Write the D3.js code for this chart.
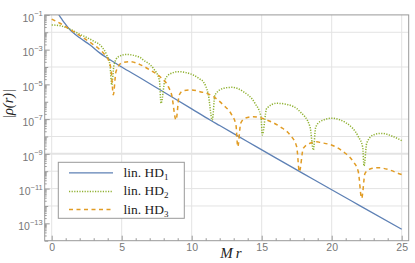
<!DOCTYPE html>
<html><head><meta charset="utf-8">
<script src="https://cdn.jsdelivr.net/npm/d3@7"></script>
<style>
html,body{margin:0;padding:0;background:#fff;}
svg{display:block;}
</style></head>
<body>
<svg id="chart" width="415" height="263"></svg>
<script>
// ---- data ----
const hd1Mr  = [0.45, 0.52, 0.75, 1.0, 1.26, 1.5, 2.0, 2.74, 3.45, 4.0, 5.0, 6.31, 8.0, 10.0, 11.31, 12, 14, 16, 18, 20, 22, 25];
const hd1Val = [1.26e-1, 1.0e-1, 5.25e-2, 2.82e-2, 1.55e-2, 1.0e-2, 4.79e-3, 1.86e-3, 6.31e-4, 3.16e-4, 1.0e-4, 2.40e-5, 3.63e-6, 3.89e-7, 8.91e-8, 4.27e-8, 5.01e-9, 5.89e-10, 7.08e-11, 8.51e-12, 1.05e-12, 4.57e-14];

const hd2Mr  = [0, 0.59, 1.26, 2.02, 2.97, 3.57, 3.93, 4.16, 4.29, 4.45, 4.76, 5.36, 6.31, 6.55, 7.26, 7.69, 7.81, 8.09, 8.45, 9.04, 10.11, 10.59, 10.83, 11.19, 11.47, 11.66, 12.26, 12.86, 13.69, 14.52, 14.95, 15.04, 15.36, 16.07, 16.79, 17.74, 18.45, 18.69, 18.85, 19.16, 20.0, 21.07, 21.9, 22.21, 22.31, 22.5, 22.97, 23.57, 24.29, 25.0];
const hd2Val = [2.63e-2, 2.40e-2, 1.55e-2, 7.59e-3, 3.16e-3, 1.48e-3, 4.90e-4, 1.32e-4, 9.12e-6, 1.32e-4, 3.89e-4, 5.25e-4, 3.55e-4, 2.51e-4, 8.32e-5, 1.78e-5, 8.13e-7, 1.78e-5, 3.98e-5, 5.37e-5, 3.47e-5, 2.00e-5, 1.41e-5, 2.45e-6, 8.91e-8, 2.45e-6, 5.89e-6, 6.76e-6, 3.80e-6, 8.13e-7, 1.38e-7, 1.23e-8, 4.17e-7, 8.13e-7, 7.08e-7, 2.69e-7, 3.63e-8, 1.66e-9, 3.16e-8, 7.08e-8, 1.12e-7, 5.75e-8, 9.77e-9, 2.57e-9, 2.00e-10, 4.07e-9, 1.23e-8, 1.51e-8, 1.07e-8, 5.75e-9];

const hd3Mr  = [0, 0.59, 1.26, 2.02, 2.74, 3.33, 3.81, 4.05, 4.25, 4.40, 4.59, 5.0, 5.59, 6.31, 7.02, 7.74, 8.33, 8.57, 8.88, 9.11, 9.40, 10.0, 10.59, 11.19, 11.55, 12.26, 12.86, 13.16, 13.29, 13.5, 13.81, 14.4, 15.36, 16.31, 17.02, 17.5, 17.69, 17.97, 18.45, 18.93, 19.16, 20.11, 20.83, 21.54, 21.9, 22.14, 22.38, 22.74, 23.33, 24.16, 24.88, 25.0];
const hd3Val = [5.75e-2, 3.31e-2, 1.55e-2, 6.31e-3, 2.63e-3, 1.20e-3, 4.90e-4, 2.51e-4, 6.31e-5, 2.51e-6, 5.37e-5, 1.70e-4, 2.04e-4, 1.38e-4, 6.76e-5, 2.75e-5, 7.41e-6, 2.45e-6, 8.91e-8, 2.45e-6, 4.37e-6, 4.79e-6, 3.80e-6, 2.82e-6, 1.95e-6, 6.46e-7, 1.74e-7, 4.57e-8, 2.57e-9, 5.75e-8, 1.12e-7, 1.38e-7, 8.91e-8, 3.63e-8, 1.23e-8, 2.57e-9, 9.33e-11, 2.09e-9, 4.07e-9, 5.01e-9, 4.57e-9, 2.95e-9, 1.32e-9, 3.55e-10, 9.33e-11, 2.75e-12, 7.59e-11, 1.35e-10, 1.58e-10, 1.17e-10, 6.92e-11, 6.46e-11];

const seriesNames = ["lin. HD", "lin. HD", "lin. HD"];
const seriesSubs = ["1", "2", "3"];
const xTicks = [0, 5, 10, 15, 20, 25];
const yTickExps = [-1, -3, -5, -7, -9, -11, -13];
const yGridExps = [-2, -4, -7, -8, -9, -10, -11, -12];

// ---- layout ----
const svg = d3.select("#chart");
const L = 44.7, R = 408.7, T = 14.9, B = 240.7;
const x = d3.scaleLinear().domain([-0.5, 25.5]).range([L, R]);
const y = d3.scaleLog().domain([1e-14, 1e-1]).range([B, T]);

const colors = ["#5E81B5", "#8FB131", "#E19C24"];
const grid = "#e3e3e3";
const frameCol = "#999";
const labCol = "#777";

svg.append("defs").append("clipPath").attr("id", "clip")
  .append("rect").attr("x", L).attr("y", T).attr("width", R - L).attr("height", B - T);

// gridlines
const g = svg.append("g");
g.selectAll("line.vx").data(xTicks).join("line")
  .attr("x1", d => x(d)).attr("x2", d => x(d)).attr("y1", T).attr("y2", B)
  .attr("stroke", grid).attr("stroke-width", 1);
g.selectAll("line.hy").data(yGridExps).join("line")
  .attr("x1", L).attr("x2", R).attr("y1", d => y(Math.pow(10, d))).attr("y2", d => y(Math.pow(10, d)))
  .attr("stroke", grid).attr("stroke-width", d => d === -9 ? 2 : 1);

// curves
const mk = (xs, vs) => xs.map((m, i) => [m, vs[i]]);
const line = d3.line().x(d => x(d[0])).y(d => y(d[1])).curve(d3.curveMonotoneX);
const plot = svg.append("g").attr("clip-path", "url(#clip)");
plot.append("path").datum(mk(hd1Mr, hd1Val)).attr("d", line)
  .attr("fill", "none").attr("stroke", colors[0]).attr("stroke-width", 1.3);
plot.append("path").datum(mk(hd2Mr, hd2Val)).attr("d", line)
  .attr("fill", "none").attr("stroke", colors[1]).attr("stroke-width", 1.5)
  .attr("stroke-dasharray", "1.2,1.4");
plot.append("path").datum(mk(hd3Mr, hd3Val)).attr("d", line)
  .attr("fill", "none").attr("stroke", colors[2]).attr("stroke-width", 1.5)
  .attr("stroke-dasharray", "4,3.5");

// axes
const minorY = [];
for (let e = -14; e < -1; e++) for (let k = 2; k <= 9; k++) minorY.push(k * Math.pow(10, e));
const decY = d3.range(-14, 0).map(e => Math.pow(10, e)).filter(v => !yTickExps.includes(Math.round(Math.log10(v))));
const axMinorY = d3.axisLeft(y).tickValues(minorY).tickSize(-2).tickFormat("");
const axDecY = d3.axisLeft(y).tickValues(decY).tickSize(-3.5).tickFormat("");
const axY = d3.axisLeft(y).tickValues(yTickExps.map(e => Math.pow(10, e))).tickSize(-5).tickPadding(3);
const minorX = d3.range(0, 26).filter(v => v % 5 !== 0);
const axMinorX = d3.axisBottom(x).tickValues(minorX).tickSize(-2.5).tickFormat("");
const axX = d3.axisBottom(x).tickValues(xTicks).tickSize(-5).tickPadding(3).tickFormat(d3.format("d"));

function styleAxis(sel) {
  sel.select(".domain").remove();
  sel.selectAll(".tick line").attr("stroke", frameCol);
  sel.selectAll(".tick text").attr("fill", labCol).attr("font-family", "'Liberation Sans', Arial, sans-serif").attr("font-size", 10.5);
}
svg.append("g").attr("transform", `translate(${L},0)`).call(axMinorY).call(styleAxis);
svg.append("g").attr("transform", `translate(${L},0)`).call(axDecY).call(styleAxis);
const gy = svg.append("g").attr("transform", `translate(${L},0)`).call(axY).call(styleAxis);
gy.selectAll(".tick text").each(function (d) {
  const t = d3.select(this);
  const e = Math.round(Math.log10(d));
  t.text(null).attr("dy", "0.6em");
  t.append("tspan").text("10");
  t.append("tspan").attr("dy", "-0.75em").attr("font-size", 7.5).text("\u2212" + Math.abs(e));
});
gy.selectAll(".tick text").attr("x", -2);
svg.append("g").attr("transform", `translate(0,${B})`).call(axMinorX).call(styleAxis);
const gx = svg.append("g").attr("transform", `translate(0,${B})`).call(axX).call(styleAxis);

// frame
svg.append("rect").attr("x", L).attr("y", T).attr("width", R - L).attr("height", B - T)
  .attr("fill", "none").attr("stroke", frameCol).attr("stroke-width", 1);

// axis titles
svg.append("text").attr("x", 231).attr("y", 257.5).attr("text-anchor", "middle")
  .attr("font-family", "'Liberation Serif', 'Times New Roman', serif").attr("font-style", "italic")
  .attr("font-size", 15).attr("fill", "#222").text("M\u2009r");
svg.append("text").attr("transform", "translate(13,104) rotate(-90)").attr("text-anchor", "middle")
  .attr("font-family", "'Liberation Serif', 'Times New Roman', serif").attr("font-style", "italic")
  .attr("font-size", 14.5).attr("fill", "#222").text("|\u03C1(r)|");

// legend
const lg = svg.append("g");
lg.append("rect").attr("x", 58.3).attr("y", 162.3).attr("width", 126).attr("height", 56)
  .attr("fill", "#fff").attr("stroke", "#999").attr("stroke-width", 1);
const rowsY = [172.8, 191.4, 209.6];
const dashes = [null, "1.2,1.4", "4,3.5"];
const widths = [1.3, 1.5, 1.5];
seriesNames.forEach((nm, i) => {
  lg.append("line").attr("x1", 69).attr("x2", 113).attr("y1", rowsY[i]).attr("y2", rowsY[i])
    .attr("stroke", colors[i]).attr("stroke-width", widths[i]).attr("stroke-dasharray", dashes[i]);
  const t = lg.append("text").attr("x", 123.5).attr("y", rowsY[i] + 4)
    .attr("font-family", "'Liberation Serif', 'Times New Roman', serif").attr("font-size", 13.5).attr("fill", "#222");
  t.append("tspan").text(nm);
  t.append("tspan").attr("dy", 3).attr("font-size", 9).text(seriesSubs[i]);
});
</script>
</body></html>
